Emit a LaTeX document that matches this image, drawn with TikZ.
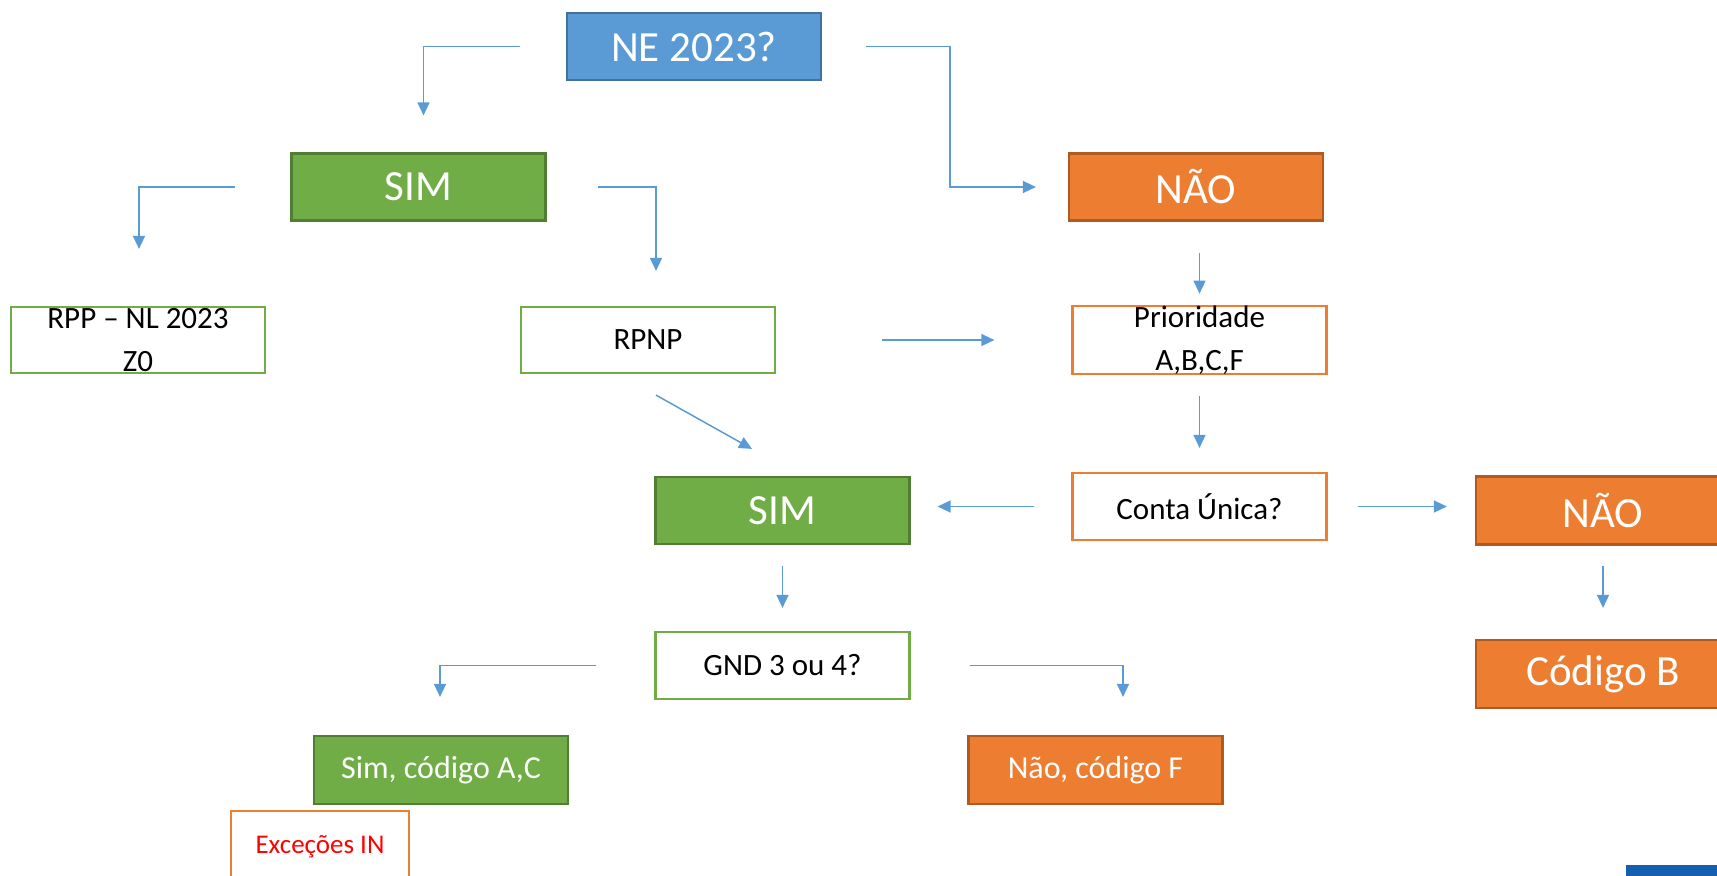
\documentclass[tikz,border=0pt]{standalone}
\usepackage{fontspec}
\setmainfont{Carlito}
\usetikzlibrary{arrows.meta}

\definecolor{neblue}{HTML}{5B9BD5}
\definecolor{neblueedge}{HTML}{41719C}
\definecolor{simgreen}{HTML}{70AD47}
\definecolor{simgreenedge}{HTML}{507E32}
\definecolor{naoorange}{HTML}{ED7D31}
\definecolor{naoorangeedge}{HTML}{AE5A21}
\definecolor{excred}{HTML}{FF0000}
\definecolor{cornerblue}{RGB}{22,94,176}

\tikzstyle{box}=[rectangle, inner sep=0pt, minimum width=127pt, minimum height=33.5pt,
        line width=1.1pt, align=center]
\tikzstyle{bluebox}=[box, fill=neblue, draw=neblueedge, text=white,
        font=\fontsize{21.5}{26}\selectfont]
\tikzstyle{greenbox}=[box, fill=simgreen, draw=simgreenedge, text=white,
        font=\fontsize{21.5}{26}\selectfont]
\tikzstyle{orangebox}=[box, fill=naoorange, draw=naoorangeedge, text=white,
        font=\fontsize{21.5}{26}\selectfont]
\tikzstyle{greenline}=[box, fill=white, draw=simgreen, text=black,
        font=\fontsize{15.5}{21.5}\selectfont]
\tikzstyle{orangeline}=[box, fill=white, draw=naoorange, text=black,
        font=\fontsize{15.5}{21.5}\selectfont]
\tikzstyle{myarrow}=[-{Triangle[length=6.5pt, width=6pt]}, draw=neblue, line width=0.75pt]

\begin{document}
\begin{tikzpicture}[x=0.5pt, y=-0.5pt]
    \path[use as bounding box, clip] (0,0) rectangle (1717,875);

    \node (NE) [bluebox] at (694,46.5) {NE 2023?};

    \node (SIMa) [greenbox] at (418.5,187) {SIM};
    \node (NAOa) [orangebox] at (1196,187) {NÃO};

    \node (RPP) [greenline, minimum height=33pt] at (138,340) {RPP – NL 2023\\Z0};
    \node (RPNP) [greenline, minimum height=33pt] at (648,340) {RPNP};
    \node (Prio) [orangeline, minimum height=33pt] at (1199.5,340) {Prioridade\\A,B,C,F};

    \node (SIMb) [greenbox] at (782.5,510.5) {SIM};
    \node (Conta) [orangeline] at (1199.5,506.5) {Conta Única?};
    \node (NAOb) [orangebox, minimum height=34pt] at (1603,510.5) {NÃO};

    \node (GND) [greenline] at (782.5,665.5) {GND 3 ou 4?};
    \node (CodB) [orangebox, minimum height=34pt] at (1603,674) {Código B};

    \node (SimAC) [greenbox, minimum height=34pt, font=\fontsize{16}{20}\selectfont] at (441,770) {Sim, código A,C};
    \node (NaoF) [orangebox, minimum height=34pt, font=\fontsize{16}{20}\selectfont] at (1095.5,770) {Não, código F};
    \node (Exc) [orangeline, minimum width=89pt, minimum height=36pt, text=excred,
        font=\fontsize{13.5}{16}\selectfont] at (320,847) {Exceções IN};

    \fill[cornerblue] (1626,865) rectangle (1730,885);

    \draw[myarrow] ([xshift=-23pt]NE.west) -| ([xshift=2.5pt, yshift=18.5pt]SIMa.north);
    \draw[myarrow] ([xshift=22pt]NE.east) -| ([xshift=-59pt]NAOa.west) -- ([xshift=-16pt]NAOa.west);

    \draw[myarrow] ([xshift=-27.5pt]SIMa.west) -| ([xshift=0.5pt, yshift=28.5pt]RPP.north);
    \draw[myarrow] ([xshift=25.5pt]SIMa.east) -| ([xshift=4pt, yshift=17.5pt]RPNP.north);
    \draw[myarrow] ([yshift=-15.5pt]NAOa.south -| Prio.north) -- ([yshift=5.5pt]Prio.north);

    \draw[myarrow] ([xshift=53pt]RPNP.east) -- ([xshift=-38.5pt]Prio.west);
    \draw[myarrow] ([xshift=4pt, yshift=-10.5pt]RPNP.south) -- ([xshift=-15.25pt, yshift=13.5pt]SIMb.north);
    \draw[myarrow] ([yshift=-10.5pt]Prio.south) -- ([yshift=12pt]Conta.north);

    \draw[myarrow] ([xshift=-18.5pt]Conta.west) -- ([xshift=13.5pt]SIMb.east |- Conta.west);
    \draw[myarrow] ([xshift=15pt]Conta.east) -- ([xshift=-14pt]NAOb.west |- Conta.east);

    \draw[myarrow] ([yshift=-10.5pt]SIMb.south) -- ([yshift=11.5pt]GND.north);
    \draw[myarrow] ([yshift=-10pt]NAOb.south) -- ([yshift=15.5pt]CodB.north);

    \draw[myarrow] ([xshift=-29pt]GND.west) -| ([xshift=-0.5pt, yshift=19pt]SimAC.north);
    \draw[myarrow] ([xshift=29.5pt]GND.east) -| ([xshift=13.75pt, yshift=19pt]NaoF.north);
\end{tikzpicture}
\end{document}
